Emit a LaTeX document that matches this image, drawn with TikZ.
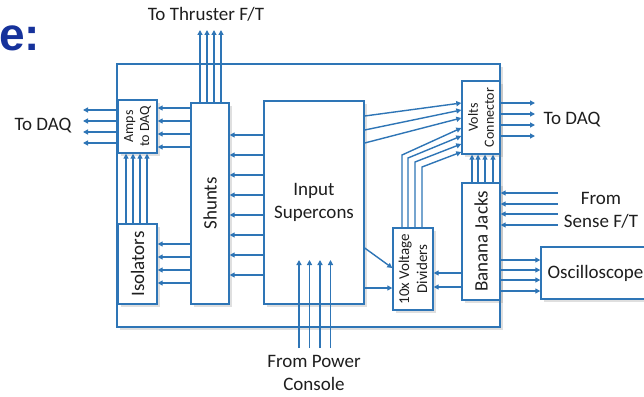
\documentclass[tikz,border=0pt]{standalone}
\usepackage{fontspec}
\setmainfont{Carlito}
\newfontfamily\headfont{Liberation Sans}
\usetikzlibrary{arrows.meta,shadows}

\definecolor{wire}{RGB}{46,117,182}
\definecolor{ink}{RGB}{30,30,30}
\definecolor{headblue}{RGB}{22,50,155}

\tikzset{
  blk/.style={draw=wire, line width=1.4pt, fill=white, inner sep=0pt,
    drop shadow={shadow xshift=3pt, shadow yshift=-3pt, opacity=0.25}},
  arr/.style={draw=wire, line width=1.4pt, -{Triangle[length=5pt,width=5pt]}},
  lbl/.style={text=ink, font=\fontsize{19}{23}\selectfont, align=center, inner sep=0pt},
  small/.style={lbl, font=\fontsize{14}{16}\selectfont},
  mid/.style={lbl, font=\fontsize{15}{18}\selectfont},
}

\begin{document}
\begin{tikzpicture}[x=1pt, y=-1pt]
\clip (0,0) rectangle (644,396);

% heading (cut off)
\node[anchor=base west, inner sep=0pt, text=headblue,
  font=\headfont\bfseries\fontsize{46}{50}\selectfont] (head) at (-1,50) {e:};

% boxes
\node[blk, minimum width=383, minimum height=263] (frame) at (308.5,195.5) {};
\node[blk, minimum width=39, minimum height=53] (amps) at (137.5,126.5) {};
\node[blk, minimum width=39, minimum height=80] (iso) at (137.5,264) {};
\node[blk, minimum width=38, minimum height=201] (shunts) at (210,203.5) {};
\node[blk, minimum width=100, minimum height=203, lbl] (sup) at (314,202.5) {Input\\Supercons};
\node[blk, minimum width=40, minimum height=82] (div) at (413,269) {};
\node[blk, minimum width=38, minimum height=73] (volts) at (481,117.5) {};
\node[blk, minimum width=38, minimum height=117] (banana) at (481,241.5) {};
\node[blk, minimum width=109, minimum height=52, lbl] (osc) at (595.5,273) {Oscilloscope};

% box texts
\node[small, rotate=90] (amps-t) at (amps) {Amps\\to DAQ};
\node[lbl, rotate=90] (iso-t) at (iso) {Isolators};
\node[lbl, rotate=90] (shunts-t) at (shunts) {Shunts};
\node[mid, rotate=90] (div-t) at (div) {10x Voltage\\Dividers};
\node[small, rotate=90] (volts-t) at (volts) {Volts\\Connector};
\node[lbl, rotate=90] (banana-t) at (banana) {Banana Jacks};

% outside texts
\node[lbl] (daqL) at (43,126) {To DAQ};
\node[lbl] (daqR) at (572,120) {To DAQ};
\node[lbl] (thr) at (206,14) {To Thruster F/T};
\node[lbl] (pwr) at (314,373) {From Power\\Console};
\node[lbl] (sense) at (601,210) {From\\Sense F/T};

% free ends
\coordinate (daqLtip) at (83,126);
\coordinate (daqRtip) at (535,120);
\coordinate (thrtip) at (210,30);
\coordinate (pwrtail) at (314,348);
\coordinate (pwrtip) at (314,260);
\coordinate (sensetail) at (558,210);

% connectors
\foreach \y in {110,121,132,143}
  \draw[arr] (amps.west |- 0,\y) -- (daqLtip |- 0,\y);
\foreach \y in {108,121,134,147}
  \draw[arr] (shunts.west |- 0,\y) -- (amps.east |- 0,\y);
\foreach \x in {126,133,140,147}
  \draw[arr] (iso.north -| \x,0) -- (amps.south -| \x,0);
\foreach \y in {244,257,270,283}
  \draw[arr] (shunts.west |- 0,\y) -- (iso.east |- 0,\y);
\foreach \y in {135,155,...,275}
  \draw[arr] (sup.west |- 0,\y) -- (shunts.east |- 0,\y);
\foreach \x in {200,207,214,221}
  \draw[arr] (shunts.north -| \x,0) -- (thrtip -| \x,0);
\foreach \x in {299,309.5,320,330.5}
  \draw[arr] (pwrtail -| \x,0) -- (pwrtip -| \x,0);
\foreach \a/\b in {116/103,130/110,143/118}
  \draw[arr] (sup.east |- 0,\a) -- (volts.west |- 0,\b);
\foreach \x/\k/\b in {402/155/128,408/158/136,415/162/144,422/167/152}
  \draw[arr] (div.north -| \x,0) -- (\x,\k) -- (volts.west |- 0,\b);
\draw[arr] (sup.east |- 0,248) -- (div.west |- 0,268);
\draw[arr] (sup.east |- 0,288) -- (div.west |- 0,288);
\foreach \y in {273,287}
  \draw[arr] (banana.west |- 0,\y) -- (div.east |- 0,\y);
\foreach \x in {472,478,485,493}
  \draw[arr] (banana.north -| \x,0) -- (volts.south -| \x,0);
\foreach \y in {103,114,125,136}
  \draw[arr] (volts.east |- 0,\y) -- (daqRtip |- 0,\y);
\foreach \y in {193,204,214,225}
  \draw[arr] (sensetail |- 0,\y) -- (banana.east |- 0,\y);
\foreach \y in {260,270,280,291}
  \draw[arr] (banana.east |- 0,\y) -- (osc.west |- 0,\y);
\end{tikzpicture}
\end{document}
